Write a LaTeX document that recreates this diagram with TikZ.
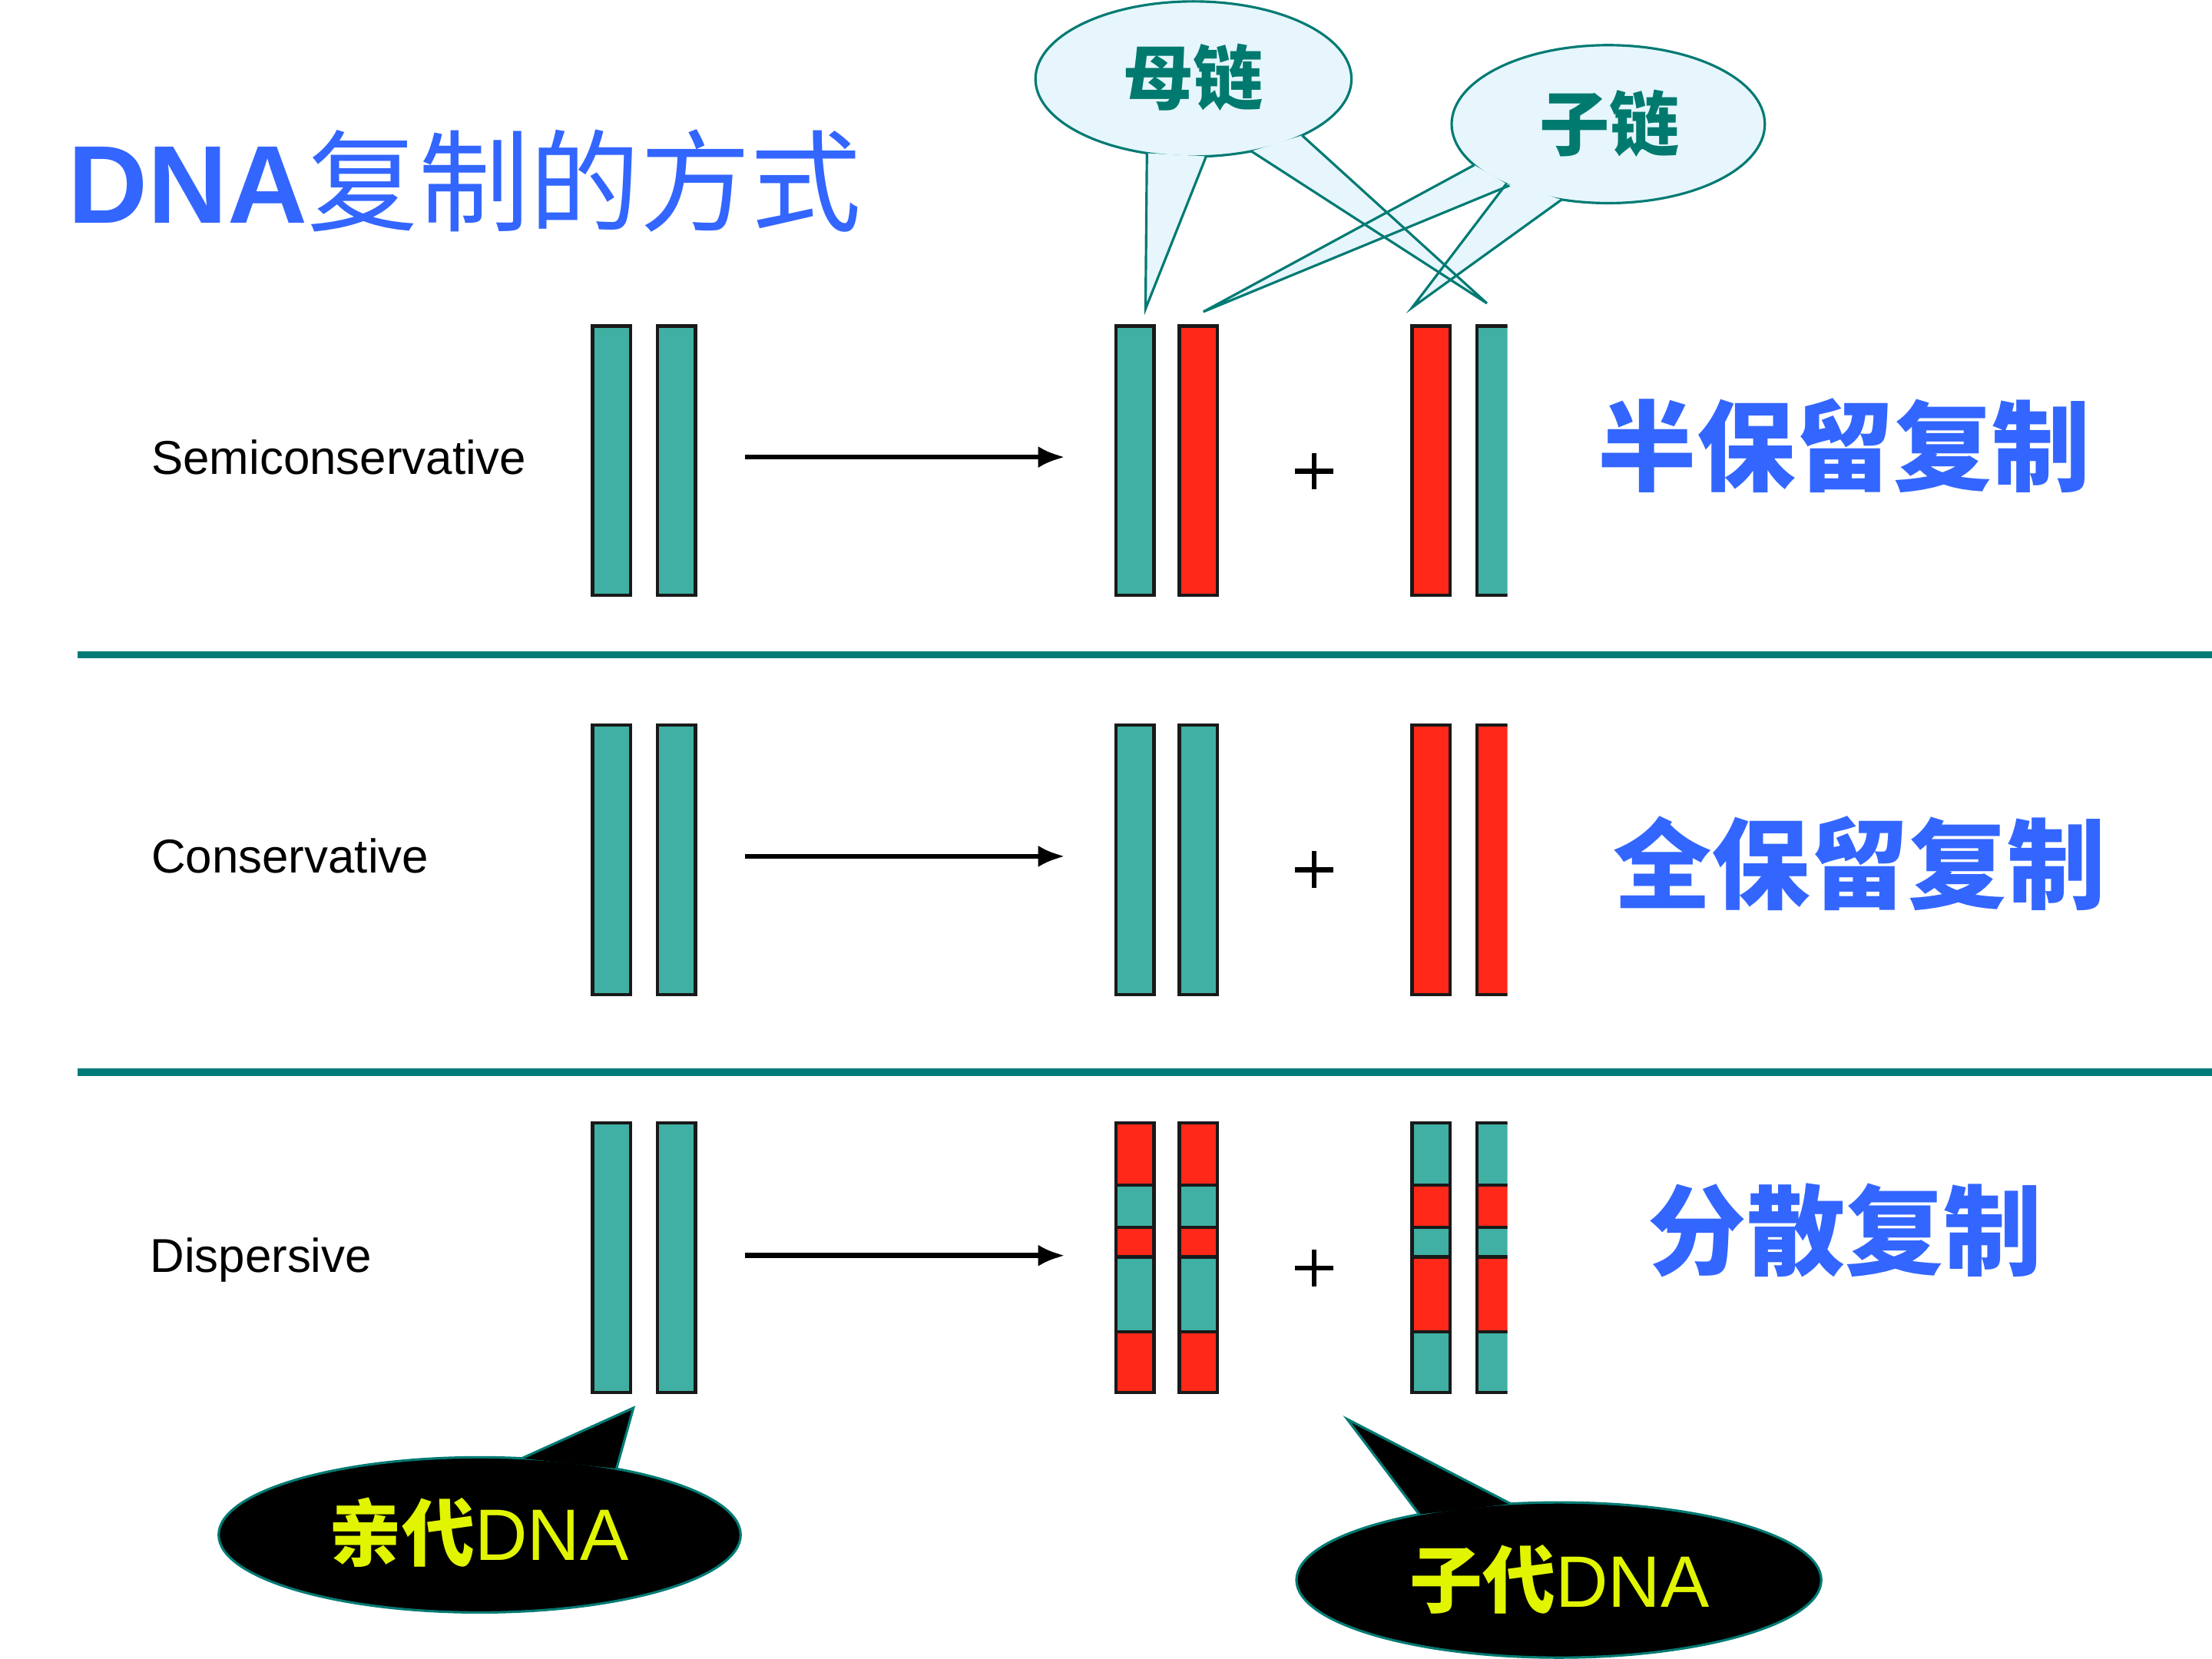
\documentclass[tikz,border=0pt]{standalone}
\usepackage{fontspec}
\setmainfont{Liberation Sans}
\newfontfamily\cjk{Noto Sans CJK SC}
\usetikzlibrary{arrows.meta}
\definecolor{tealbar}{RGB}{63,176,163}
\definecolor{redbar}{RGB}{255,40,25}
\definecolor{barline}{RGB}{25,25,25}
\definecolor{divider}{RGB}{0,123,120}
\definecolor{callfill}{RGB}{230,246,252}
\definecolor{callline}{RGB}{0,122,115}
\definecolor{calltext}{RGB}{0,122,110}
\definecolor{titleblue}{RGB}{51,102,255}
\definecolor{yel}{RGB}{225,245,0}
\tikzset{
  strandbox/.style={draw=barline, line width=1.3pt},
  divline/.style={draw=divider, line width=2.7pt},
  lightcall/.style={fill=callfill, draw=callline, line width=0.9pt},
  lightedge/.style={draw=callline, line width=0.9pt, line join=miter},
  darkcall/.style={fill=black, draw=callline, line width=0.9pt},
  rowlabel/.style={anchor=base west, inner sep=0pt, font=\fontsize{17.6}{19}\selectfont},
  biglabel/.style={anchor=center, inner sep=0pt, text=titleblue, font=\fontsize{36.5}{38}\selectfont\cjk\bfseries},
  bubtext/.style={anchor=center, inner sep=0pt, text=calltext, font=\fontsize{26}{28}\selectfont\cjk\bfseries},
  darktext/.style={anchor=base west, inner sep=0pt, text=yel, font=\fontsize{27}{29}\selectfont},
  steparrow/.style={draw=black, line width=1.9pt, -{Latex[length=10pt,width=8pt]}},
  plussign/.style={draw=black, line width=1.8pt}
}
\newcommand\strandbar[3]{\filldraw[strandbox, fill=#3] (#1,#2) rectangle (#1+27,#2+191);}
\newcommand\dstrand[4]{%
  \fill[#3] (#1,#2) rectangle (#1+27,#2+44);
  \fill[#4] (#1,#2+44) rectangle (#1+27,#2+74);
  \fill[#3] (#1,#2+74) rectangle (#1+27,#2+95);
  \fill[#4] (#1,#2+95) rectangle (#1+27,#2+148);
  \fill[#3] (#1,#2+148) rectangle (#1+27,#2+191);
  \foreach \d in {44,74,95,148} {\draw[barline, line width=1.3pt] (#1,#2+\d) -- (#1+27,#2+\d);}
  \draw[strandbox] (#1,#2) rectangle (#1+27,#2+191);}
\newcommand\plusat[1]{\draw[plussign] (918,#1) -- (945,#1); \draw[plussign] (931.5,#1-13) -- (931.5,#1+13);}
\begin{document}
\begin{tikzpicture}[x=0.0183673cm, y=-0.0183673cm]
\useasboundingbox (0,0) rectangle (1568,1176);
\fill[white] (0,0) rectangle (1568,1176);

% title
\node[anchor=base west, inner sep=0pt, text=titleblue] (title) at (48,158)
  {\fontsize{41}{43}\selectfont\bfseries DNA\mdseries\cjk 复制的方式};

% dividers
\coordinate (d1a) at (55,464); \coordinate (d1b) at (1568,464);
\coordinate (d2a) at (55,760); \coordinate (d2b) at (1568,760);
\draw[divline] (d1a) -- (d1b);
\draw[divline] (d2a) -- (d2b);

% row labels
\node[rowlabel] (lab1) at (107,336) {Semiconservative};
\node[rowlabel] (lab2) at (107,619) {Conservative};
\node[rowlabel] (lab3) at (106,902) {Dispersive};

% row 1: semiconservative
\strandbar{420}{231}{tealbar}
\strandbar{466}{231}{tealbar}
\strandbar{791}{231}{tealbar}
\strandbar{836}{231}{redbar}
\strandbar{1001}{231}{redbar}
% row 2: conservative
\strandbar{420}{514}{tealbar}
\strandbar{466}{514}{tealbar}
\strandbar{791}{514}{tealbar}
\strandbar{836}{514}{tealbar}
\strandbar{1001}{514}{redbar}
% row 3: dispersive
\strandbar{420}{796}{tealbar}
\strandbar{466}{796}{tealbar}
\dstrand{791}{796}{redbar}{tealbar}
\dstrand{836}{796}{redbar}{tealbar}
\dstrand{1001}{796}{tealbar}{redbar}
% clipped right strands
\begin{scope}
  \clip (1035,200) rectangle (1068.5,1000);
  \strandbar{1047}{231}{tealbar}
  \strandbar{1047}{514}{redbar}
  \dstrand{1047}{796}{tealbar}{redbar}
\end{scope}

% arrows
\coordinate (a1s) at (528,324); \coordinate (a1e) at (755,324);
\coordinate (a2s) at (528,607); \coordinate (a2e) at (755,607);
\coordinate (a3s) at (528,890); \coordinate (a3e) at (755,890);
\draw[steparrow] (a1s) -- (a1e);
\draw[steparrow] (a2s) -- (a2e);
\draw[steparrow] (a3s) -- (a3e);

% plus signs
\plusat{334}
\plusat{616.5}
\plusat{899}

% right labels
\node[biglabel] (rl1) at (1307.5,316) {半保留复制};
\node[biglabel] (rl2) at (1318,612) {全保留复制};
\node[biglabel] (rl3) at (1308,872) {分散复制};

% light callouts
\filldraw[lightcall] (846,56) ellipse [x radius=112, y radius=55];
\filldraw[lightcall] (1140,88) ellipse [x radius=111, y radius=56];
\fill[callfill] (813,108.6) -- (812,219) -- (855,110.8) -- cycle;
\fill[callfill] (887,107.2) -- (1054,215) -- (923,96) -- cycle;
\fill[callfill] (1045,117) -- (853,221) -- (1070,131.5) -- cycle;
\fill[callfill] (1068,130) -- (1001,218) -- (1107,141.5) -- cycle;
\draw[lightedge] (813,108.6) -- (812,219) -- (855,110.8);
\draw[lightedge] (887,107.2) -- (1054,215) -- (923,96);
\draw[lightedge] (1045,117) -- (853,221) -- (1070,131.5);
\draw[lightedge] (1068,130) -- (1001,218) -- (1107,141.5);
\node[bubtext] (mu) at (846,55) {母链};
\node[bubtext] (zi) at (1141,87.5) {子链};

% dark callouts
\filldraw[darkcall] (340,1088) ellipse [x radius=185, y radius=55];
\fill[black] (370,1033.7) -- (449,998) -- (437,1041) -- cycle;
\draw[lightedge] (370,1033.7) -- (449,998) -- (437,1041);
\filldraw[darkcall] (1105,1120) ellipse [x radius=186, y radius=55];
\fill[black] (1006,1073.4) -- (955,1006) -- (1071,1066) -- cycle;
\draw[lightedge] (1006,1073.4) -- (955,1006) -- (1071,1066);
\node[darktext] (qin) at (233,1106) {{\cjk\bfseries 亲代}DNA};
\node[darktext] (zidai) at (999,1139) {{\cjk\bfseries 子代}DNA};
\end{tikzpicture}
\end{document}
